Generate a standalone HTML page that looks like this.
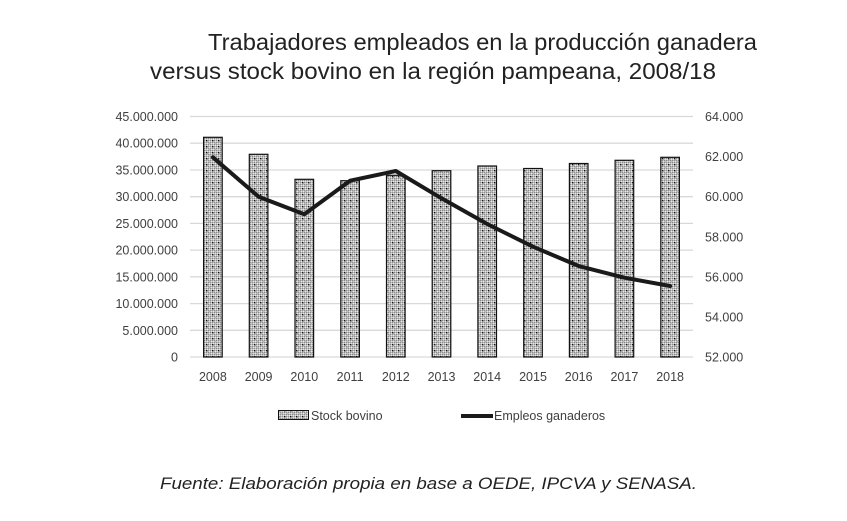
<!DOCTYPE html>
<html><head><meta charset="utf-8"><style>
html,body{margin:0;padding:0;background:#fff;}
body{width:847px;height:521px;overflow:hidden;}
svg{display:block;}
</style></head><body>
<svg width="847" height="521" viewBox="0 0 847 521" xmlns="http://www.w3.org/2000/svg">
<defs>
<pattern id="pt" width="6" height="6" patternUnits="userSpaceOnUse">
<rect width="6" height="6" fill="#bdbdbd"/>
<rect x="0" y="0" width="1" height="1" fill="#8a8a8a"/><rect x="2" y="0" width="1" height="1" fill="#8a8a8a"/><rect x="4" y="0" width="1" height="1" fill="#8a8a8a"/>
<rect x="1" y="1" width="1" height="1" fill="#e6e6e6"/><rect x="3" y="1" width="1" height="1" fill="#e6e6e6"/><rect x="5" y="1" width="1" height="1" fill="#e6e6e6"/>
<rect x="0" y="2" width="1" height="1" fill="#8a8a8a"/><rect x="4" y="2" width="1" height="1" fill="#8a8a8a"/>
<rect x="1" y="3" width="1" height="1" fill="#e6e6e6"/><rect x="5" y="3" width="1" height="1" fill="#e6e6e6"/>
<rect x="0" y="4" width="1" height="1" fill="#8a8a8a"/><rect x="2" y="4" width="1" height="1" fill="#8a8a8a"/><rect x="4" y="4" width="1" height="1" fill="#8a8a8a"/>
<rect x="1" y="5" width="1" height="1" fill="#e6e6e6"/><rect x="3" y="5" width="1" height="1" fill="#e6e6e6"/>
<rect x="2" y="2" width="1.3" height="1.3" fill="#111"/>
</pattern>
</defs>

<!-- Title -->
<g font-family="Liberation Sans, sans-serif" font-size="23" fill="#222">
<text x="208" y="50" textLength="549" lengthAdjust="spacingAndGlyphs">Trabajadores empleados en la producción ganadera</text>
<text x="150" y="79" textLength="566" lengthAdjust="spacingAndGlyphs">versus stock bovino en la región pampeana, 2008/18</text>
</g>

<!-- gridlines -->
<g stroke="#d9d9d9" stroke-width="1.3">
<line x1="190" x2="693" y1="116.5" y2="116.5"/>
<line x1="190" x2="693" y1="143.2" y2="143.2"/>
<line x1="190" x2="693" y1="170" y2="170"/>
<line x1="190" x2="693" y1="196.7" y2="196.7"/>
<line x1="190" x2="693" y1="223.4" y2="223.4"/>
<line x1="190" x2="693" y1="250.1" y2="250.1"/>
<line x1="190" x2="693" y1="276.8" y2="276.8"/>
<line x1="190" x2="693" y1="303.6" y2="303.6"/>
<line x1="190" x2="693" y1="330.3" y2="330.3"/>
<line x1="190" x2="693" y1="357" y2="357"/>
</g>

<!-- left axis labels -->
<g font-family="Liberation Sans, sans-serif" font-size="12.5" fill="#404040" text-anchor="end">
<text x="178" y="121">45.000.000</text>
<text x="178" y="147.7">40.000.000</text>
<text x="178" y="174.5">35.000.000</text>
<text x="178" y="201.2">30.000.000</text>
<text x="178" y="227.9">25.000.000</text>
<text x="178" y="254.6">20.000.000</text>
<text x="178" y="281.3">15.000.000</text>
<text x="178" y="308.1">10.000.000</text>
<text x="178" y="334.8">5.000.000</text>
<text x="178" y="361.5">0</text>
</g>

<!-- right axis labels -->
<g font-family="Liberation Sans, sans-serif" font-size="12.5" fill="#404040">
<text x="705" y="121">64.000</text>
<text x="705" y="161.1">62.000</text>
<text x="705" y="201.2">60.000</text>
<text x="705" y="241.3">58.000</text>
<text x="705" y="281.3">56.000</text>
<text x="705" y="321.4">54.000</text>
<text x="705" y="361.5">52.000</text>
</g>

<!-- bars -->
<g fill="url(#pt)" stroke="#111" stroke-width="1.2">
<rect x="203.6" y="137.3" width="18.6" height="219.7"/>
<rect x="249.3" y="154.3" width="18.6" height="202.7"/>
<rect x="295.0" y="179.3" width="18.6" height="177.7"/>
<rect x="340.8" y="180.7" width="18.6" height="176.3"/>
<rect x="386.5" y="175.3" width="18.6" height="181.7"/>
<rect x="432.2" y="170.7" width="18.6" height="186.3"/>
<rect x="477.9" y="166" width="18.6" height="191"/>
<rect x="523.7" y="168.5" width="18.6" height="188.5"/>
<rect x="569.4" y="163.5" width="18.6" height="193.5"/>
<rect x="615.1" y="160.3" width="18.6" height="196.7"/>
<rect x="660.8" y="157.3" width="18.6" height="199.7"/>
</g>

<!-- line -->
<polyline fill="none" stroke="#1a1a1a" stroke-width="4" stroke-linejoin="round" stroke-linecap="round"
points="212.9,157.3 258.6,196.7 304.3,214.3 350.1,180.7 395.8,171 441.5,198.3 487.2,224 533,246.7 578.7,266 624.4,277.7 670.1,286"/>

<!-- x labels -->
<g font-family="Liberation Sans, sans-serif" font-size="12.5" fill="#404040" text-anchor="middle">
<text x="212.9" y="381">2008</text>
<text x="258.6" y="381">2009</text>
<text x="304.3" y="381">2010</text>
<text x="350.1" y="381">2011</text>
<text x="395.8" y="381">2012</text>
<text x="441.5" y="381">2013</text>
<text x="487.2" y="381">2014</text>
<text x="533" y="381">2015</text>
<text x="578.7" y="381">2016</text>
<text x="624.4" y="381">2017</text>
<text x="670.1" y="381">2018</text>
</g>

<!-- legend -->
<rect x="278.5" y="410.5" width="30" height="9" fill="url(#pt)" stroke="#111" stroke-width="1"/>
<text x="311" y="420" font-family="Liberation Sans, sans-serif" font-size="12.5" fill="#404040">Stock bovino</text>
<line x1="461" x2="493" y1="416" y2="416" stroke="#1a1a1a" stroke-width="4"/>
<text x="494" y="420" font-family="Liberation Sans, sans-serif" font-size="12.5" fill="#404040">Empleos ganaderos</text>

<!-- footer -->
<text x="160" y="489" font-family="Liberation Sans, sans-serif" font-size="17" font-style="italic" fill="#222" textLength="537" lengthAdjust="spacingAndGlyphs">Fuente: Elaboración propia en base a OEDE, IPCVA y SENASA.</text>
</svg>
</body></html>
